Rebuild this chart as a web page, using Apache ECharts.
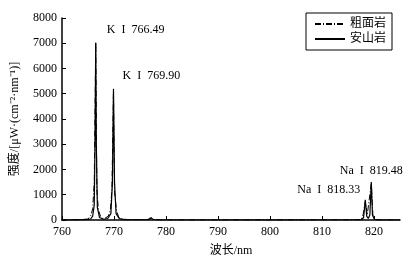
<!DOCTYPE html>
<html>
<head>
<meta charset="utf-8">
<title></title>
<script src="https://cdn.jsdelivr.net/npm/echarts@6/dist/echarts.min.js"></script>
<style>
html,body{margin:0;width:100%;height:100%;background:#fff;}
#chartDiv{width:409px;height:262px;}
</style>
</head>
<body>
<div id="chartDiv"></div>
<script type="text/javascript">
// wavelength (nm), intensity
var andesite = [
  [760,0],[762,5],[764,15],[765.5,40],[765.9,150],[766.2,600],[766.35,3000],[766.49,7000],
  [766.6,3000],[766.8,500],[767.2,100],[768,30],[768.8,60],[769.4,250],[769.7,1500],
  [769.9,5200],[770.1,1500],[770.4,250],[771,60],[772,15],[776.5,10],[777.1,90],[777.6,10],
  [790,0],[810,0],[817.6,10],[818.0,100],[818.33,800],[818.6,150],[818.9,60],[819.2,200],
  [819.48,1500],[819.7,200],[820.1,20],[821,5],[825,0]
];
var trachyte = [
  [760,0],[763,10],[765,30],[765.6,200],[765.9,450],[766.2,1500],[766.49,7050],[766.7,1200],
  [767,400],[767.4,150],[768,40],[768.9,150],[769.3,400],[769.6,1200],[769.9,5150],[770.1,1100],
  [770.5,350],[770.9,120],[771.5,40],[773,10],[776.8,20],[777.2,80],[777.6,20],[779,0],
  [817.5,10],[817.9,200],[818.33,750],[818.7,200],[819,150],[819.48,1450],[819.8,150],
  [820.2,20],[821,0],[825,0]
];
var seriesNames = ['粗面岩','安山岩'];
var peakLabels = [
  {text:'K  I  766.49', coord:[766.49,7050]},
  {text:'K  I  769.90', coord:[769.9,5200]},
  {text:'Na  I  818.33', coord:[818.33,800]},
  {text:'Na  I  819.48', coord:[819.48,1500]}
];

var font = '"Liberation Serif","Noto Sans CJK SC",serif';
var labelPos = [
  {position:'right', offset:[6,-12]},
  {position:'right', offset:[4,-13]},
  {position:'left', offset:[0,-10]},
  {position:'top', offset:[0,0]}
];

var option = {
  animation:false,
  textStyle:{fontFamily:font},
  grid:{left:62, right:9, top:18, bottom:42},
  legend:{
    orient:'vertical',
    left:306, top:13,
    data:seriesNames,
    borderColor:'#000', borderWidth:1,
    padding:[5,6,5,8],
    itemGap:3,
    itemWidth:30, itemHeight:8,
    itemStyle:{opacity:0},
    textStyle:{fontFamily:font, fontSize:12, color:'#000'}
  },
  xAxis:{
    type:'value', min:760, max:825, interval:10,
    name:'波长/nm', nameLocation:'middle', nameGap:25,
    nameTextStyle:{fontFamily:font, fontSize:12, color:'#000'},
    axisLine:{lineStyle:{color:'#000', width:1.5}},
    axisTick:{inside:true, length:4, lineStyle:{color:'#000'}},
    axisLabel:{fontFamily:font, fontSize:12, color:'#000', showMaxLabel:false, margin:6},
    splitLine:{show:false}
  },
  yAxis:{
    type:'value', min:0, max:8000, interval:1000,
    name:'强度/[μW·(cm⁻²·nm⁻¹)]', nameLocation:'middle', nameGap:41,
    nameTextStyle:{fontFamily:font, fontSize:12, color:'#000'},
    axisLine:{show:true, lineStyle:{color:'#000', width:1.5}},
    axisTick:{show:true, inside:true, length:4, lineStyle:{color:'#000'}},
    axisLabel:{fontFamily:font, fontSize:12, color:'#000', margin:5,
      formatter:function(v){ return String(v); }},
    splitLine:{show:false}
  },
  series:[
    {
      name:seriesNames[0], type:'line', data:trachyte, showSymbol:false, symbol:'none',
      color:'#000',
      lineStyle:{color:'#000', width:1, type:[6,2,1,2]}
    },
    {
      name:seriesNames[1], type:'line', data:andesite, showSymbol:false, symbol:'none',
      color:'#000',
      lineStyle:{color:'#000', width:1.2},
      markPoint:{
        symbol:'circle', symbolSize:0,
        data:peakLabels.map(function(p,i){
          return {
            coord:p.coord, value:p.text,
            label:{show:true, formatter:p.text, position:labelPos[i].position,
              offset:labelPos[i].offset, fontFamily:font, fontSize:12, color:'#000'}
          };
        })
      }
    }
  ]
};

var chart = echarts.init(document.getElementById('chartDiv'));
chart.setOption(option);
</script>
</body>
</html>
